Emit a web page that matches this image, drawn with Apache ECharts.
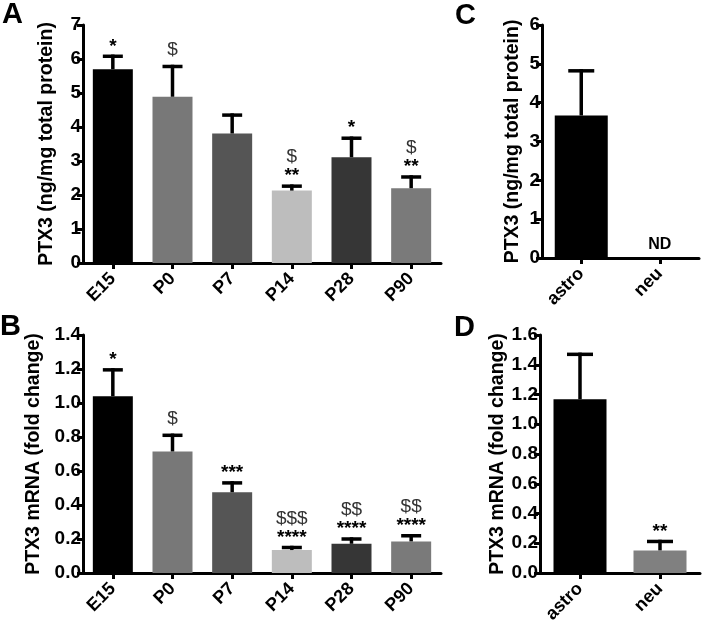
<!DOCTYPE html>
<html><head><meta charset="utf-8">
<script src="https://cdn.jsdelivr.net/npm/echarts@6/dist/echarts.min.js"></script>
<style>html,body{margin:0;padding:0;background:#fff}#c{width:709px;height:634px}</style>
</head><body><div id="c"></div>
<script>
// ---- data ----
const agesCats = ['E15','P0','P7','P14','P28','P90'];
const cellCats = ['astro','neu'];
const ageColors = ['#000000','#787878','#555555','#bdbdbd','#363636','#7a7a7a'];
const cellColorsC = ['#000000','#787878'];
const cellColorsD = ['#000000','#808080'];

const aValues = [5.70, 4.89, 3.81, 2.13, 3.11, 2.20];
const aErrTop = [6.08, 5.78, 4.35, 2.26, 3.67, 2.53];
const aMarks  = ['*', '$', '', '$\n**', '*', '$\n**'];

const bValues = [1.04, 0.715, 0.475, 0.135, 0.172, 0.186];
const bErrTop = [1.195, 0.81, 0.53, 0.15, 0.20, 0.219];
const bMarks  = ['*', '$', '***', '$$$\n****', '$$\n****', '$$\n****'];

const cValues = [3.67, 0];
const cErrTop = [4.82, 0];
const cMarks  = ['', 'ND'];

const dValues = [1.168, 0.152];
const dErrTop = [1.47, 0.212];
const dMarks  = ['', '**'];

const aTicks = {min:0, max:7, interval:1};
const bTicks = {min:0, max:1.4, interval:0.2};
const cTicks = {min:0, max:6, interval:1};
const dTicks = {min:0, max:1.6, interval:0.2};

const FF = '"Liberation Sans", Arial, Helvetica, sans-serif';

const chart = echarts.init(document.getElementById('c'));

const grids = [
  {left:83, top:25, width:358, height:238},
  {left:83, top:335, width:358, height:238},
  {left:542, top:25, width:157, height:233},
  {left:540, top:335, width:160, height:238}
];

function xAx(i, cats){
  return {type:'category', gridIndex:i, data:cats,
    axisLine:{lineStyle:{color:'#000', width:3}},
    axisTick:{show:true, alignWithLabel:true, length:6, lineStyle:{color:'#000', width:3}},
    axisLabel:{rotate:45, color:'#000', fontFamily:FF, fontWeight:'bold', fontSize:18, margin:13, interval:0}
  };
}
function yAx(i, t, name, dec, gap){
  return {type:'value', gridIndex:i, min:t.min, max:t.max, interval:t.interval,
    name:name, nameLocation:'middle', nameGap:gap,
    nameTextStyle:{color:'#000', fontFamily:FF, fontWeight:'bold', fontSize:19.5},
    splitLine:{show:false},
    axisLine:{show:true, lineStyle:{color:'#000', width:3}},
    axisTick:{show:true, length:6, lineStyle:{color:'#000', width:3}},
    axisLabel:{color:'#000', fontFamily:FF, fontWeight:'bold', fontSize:19, margin:2,
      formatter: v => v.toFixed(dec)}
  };
}

function barSeries(i, vals, colors, bw){
  return {type:'bar', xAxisIndex:i, yAxisIndex:i, barWidth:bw,
    data: vals.map((v,k)=>({value:v, itemStyle:{color:colors[k]}})),
    silent:true, z:2};
}
function errSeries(i, vals, tops, marks, capHalf){
  return {type:'custom', xAxisIndex:i, yAxisIndex:i, z:3, silent:true,
    data: vals.map((v,k)=>[k, v, tops[k]]),
    renderItem: function(params, api){
      const k = api.value(0);
      const p0 = api.coord([k, api.value(1)]);
      const p1 = api.coord([k, api.value(2)]);
      const children = [];
      if (api.value(2) > api.value(1)) {
        children.push({type:'line', shape:{x1:p0[0], y1:p0[1], x2:p1[0], y2:p1[1]-1.75}, style:{stroke:'#000', lineWidth:3.5}});
        children.push({type:'line', shape:{x1:p1[0]-capHalf, y1:p1[1], x2:p1[0]+capHalf, y2:p1[1]}, style:{stroke:'#000', lineWidth:3.5}});
      }
      const m = marks[params.dataIndex];
      if (m) {
        const lines = m.split('\n');
        let y = p1[1];
        for (let j = lines.length-1; j >= 0; j--) {
          const s = lines[j];
          const isStar = s.indexOf('*') >= 0;
          const isND = s === 'ND';
          let cy, font, fill;
          if (isStar) { cy = (j === lines.length-1) ? y - 10 : y - 14; font = 'bold 19px ' + FF; fill = '#000'; y = cy - 4; }
          else if (isND) { cy = y - 13; font = 'bold 16px ' + FF; fill = '#000'; y = cy; }
          else { cy = (j === lines.length-1) ? y - 17 : y - 15; font = '19px ' + FF; fill = '#333'; y = cy; }
          children.push({type:'text', style:{text:s, x:p1[0], y:cy, align:'center', verticalAlign:'middle', font:font, fill:fill}});
        }
      }
      return {type:'group', children:children};
    }
  };
}

const letter = (t, x, y) => ({type:'text', left:x, top:y, style:{text:t, font:'bold 29px '+FF, fill:'#000'}});

chart.setOption({
  animation:false,
  grid: grids,
  xAxis: [xAx(0, agesCats), xAx(1, agesCats), xAx(2, cellCats), xAx(3, cellCats)],
  yAxis: [
    yAx(0, aTicks, 'PTX3 (ng/mg total protein)', 0, 26),
    yAx(1, bTicks, 'PTX3 mRNA (fold change)', 1, 26),
    yAx(2, cTicks, 'PTX3 (ng/mg total protein)', 0, 19),
    yAx(3, dTicks, 'PTX3 mRNA (fold change)', 1, 20)
  ],
  series: [
    barSeries(0, aValues, ageColors, 40),
    errSeries(0, aValues, aErrTop, aMarks, 10),
    barSeries(1, bValues, ageColors, 40),
    errSeries(1, bValues, bErrTop, bMarks, 10),
    barSeries(2, cValues, cellColorsC, 53),
    errSeries(2, cValues, cErrTop, cMarks, 13),
    barSeries(3, dValues, cellColorsD, 53),
    errSeries(3, dValues, dErrTop, dMarks, 13)
  ],
  graphic: [letter('A', 2, 0), letter('B', 0, 312), letter('C', 455, 1), letter('D', 454, 313)]
});
</script></body></html>
